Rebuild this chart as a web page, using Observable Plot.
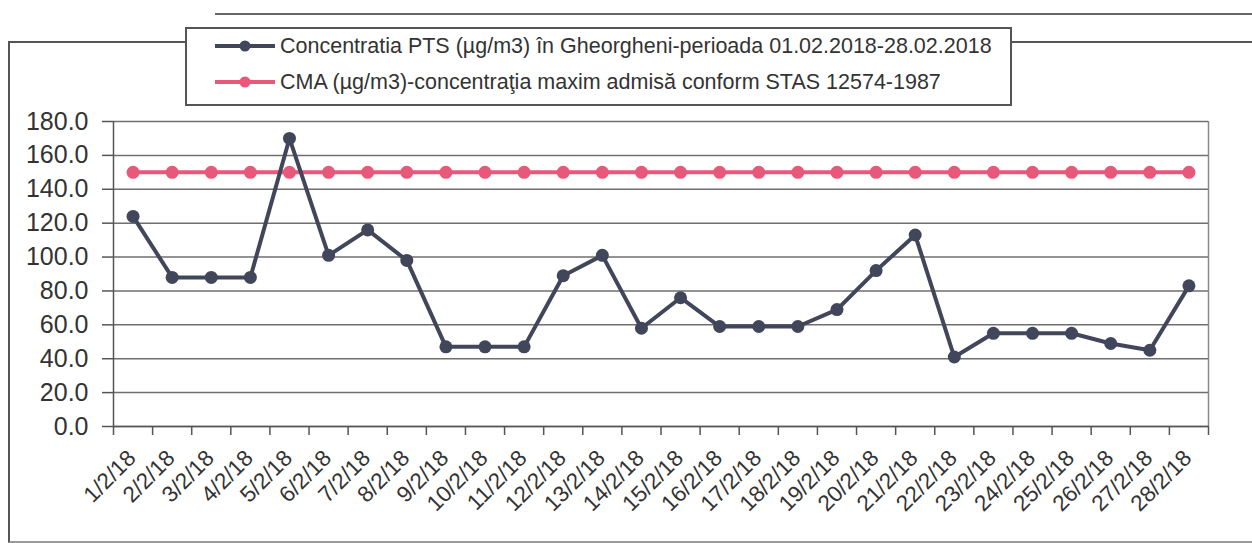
<!DOCTYPE html>
<html>
<head>
<meta charset="utf-8">
<script src="https://cdn.jsdelivr.net/npm/d3@7"></script>
<script src="https://cdn.jsdelivr.net/npm/@observablehq/plot@0.6"></script>
<style>
  html, body { margin: 0; padding: 0; background: #fff; }
  #wrap { position: relative; width: 1252px; height: 543px; overflow: hidden; font-family: "Liberation Sans", Arial, sans-serif; color: #333; }
  #frame { position: absolute; left: 8px; top: 41px; width: 1260px; height: 498px; border-left: 2px solid #555; border-top: 2px solid #555; border-bottom: 2px solid #999; pointer-events: none; }
  #scanline { position: absolute; left: 215px; top: 13px; width: 1040px; height: 0; border-top: 2px solid #666; }
  #legendArea { position: relative; height: 100px; }
  #legend { position: absolute; left: 185px; top: 27px; width: 823px; height: 75px; border: 2px solid #555; background: #fff; }
  .item { position: absolute; left: 26px; display: flex; align-items: center; font-size: 21.5px; color: #333; white-space: nowrap; }
  .item svg { margin-right: 3px; }
  #chart svg { display: block; }
</style>
</head>
<body>
<div id="wrap">
  <div id="scanline"></div>
  <div id="frame"></div>
  <div id="legendArea"><div id="legend"></div></div>
  <div id="chart"></div>
</div>
<script>
// ---- data ----
const dayLabels = ["1/2/18","2/2/18","3/2/18","4/2/18","5/2/18","6/2/18","7/2/18","8/2/18","9/2/18","10/2/18",
  "11/2/18","12/2/18","13/2/18","14/2/18","15/2/18","16/2/18","17/2/18","18/2/18","19/2/18","20/2/18",
  "21/2/18","22/2/18","23/2/18","24/2/18","25/2/18","26/2/18","27/2/18","28/2/18"];
const ptsValues = [124, 88, 88, 88, 170, 101, 116, 98, 47, 47, 47, 89, 101, 58, 76, 59, 59, 59, 69, 92, 113, 41, 55, 55, 55, 49, 45, 83];
const cmaValues = [150, 150, 150, 150, 150, 150, 150, 150, 150, 150, 150, 150, 150, 150, 150, 150, 150, 150, 150, 150, 150, 150, 150, 150, 150, 150, 150, 150];
const yTicks = [0, 20, 40, 60, 80, 100, 120, 140, 160, 180];
const seriesNames = ["Concentratia PTS (µg/m3) în Gheorgheni-perioada 01.02.2018-28.02.2018",
  "CMA (µg/m3)-concentraţia maxim admisă conform STAS 12574-1987"];
const seriesColors = ["#41465a", "#e8587a"];

// ---- derived tables ----
const days = dayLabels.map((_, i) => i + 1);
const pts = days.map((d, i) => ({day: d, value: ptsValues[i]}));
const cma = days.map((d, i) => ({day: d, value: cmaValues[i]}));
const xDomain = [0.5, dayLabels.length + 0.5];
const boundaries = d3.range(0, dayLabels.length + 1).map(i => i + 0.5);
const fontFamily = '"Liberation Sans", Arial, sans-serif';

// ---- legend ----
const legend = document.getElementById("legend");
seriesNames.forEach((name, i) => {
  const it = document.createElement("div");
  it.className = "item";
  it.style.top = (i === 0 ? 3 : 39) + "px";
  it.innerHTML = `<svg width="64" height="28"><line x1="2" y1="14" x2="62" y2="14" stroke="${seriesColors[i]}" stroke-width="4"/><circle cx="32" cy="14" r="5.5" fill="${seriesColors[i]}"/></svg><span>${name}</span>`;
  legend.appendChild(it);
});

// ---- chart ----
const chart = Plot.plot({
  width: 1252,
  height: 443,
  marginLeft: 113,
  marginRight: 44,
  marginTop: 21,
  marginBottom: 117,
  style: {fontFamily, color: "#333", background: "transparent", overflow: "visible"},
  x: {domain: xDomain, axis: null},
  y: {domain: [0, 180], axis: null},
  marks: [
    Plot.gridY(yTicks, {stroke: "#6f6f6f", strokeOpacity: 1, strokeWidth: 1.5}),
    Plot.ruleX([xDomain[1]], {stroke: "#888", strokeWidth: 1.5}),
    Plot.ruleX([xDomain[0]], {stroke: "#555", strokeWidth: 1.5}),
    Plot.ruleY([0], {stroke: "#555", strokeWidth: 1.5}),
    Plot.axisY({ticks: yTicks, tickFormat: d => d.toFixed(1), tickSize: 11, tickPadding: 14, label: null,
      fontSize: 25, stroke: "#555", strokeWidth: 1.5, fill: "#333"}),
    Plot.axisX({ticks: boundaries, tickFormat: () => "", tickSize: 9, label: null, stroke: "#555", strokeWidth: 1.5}),
    Plot.text(days, {x: d => d, text: d => dayLabels[d - 1], frameAnchor: "bottom",
      rotate: -45, textAnchor: "end", lineAnchor: "bottom", dx: 4, dy: 33,
      fontSize: 22.5, fill: "#333"}),
    Plot.line(cma, {x: "day", y: "value", stroke: seriesColors[1], strokeWidth: 4}),
    Plot.dot(cma, {x: "day", y: "value", r: 6.5, fill: seriesColors[1]}),
    Plot.line(pts, {x: "day", y: "value", stroke: seriesColors[0], strokeWidth: 4}),
    Plot.dot(pts, {x: "day", y: "value", r: 6.5, fill: seriesColors[0]})
  ]
});
document.getElementById("chart").appendChild(chart);
</script>
</body>
</html>
